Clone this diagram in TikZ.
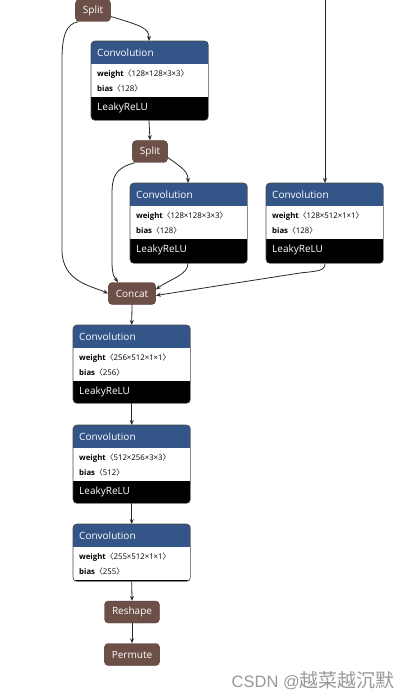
\documentclass[tikz,border=0pt]{standalone}
\usepackage{fontspec}
\setmainfont{Open Sans}
\newfontfamily\cjk{Noto Sans CJK SC}
\newfontfamily\wmfont{Liberation Sans}
\usetikzlibrary{arrows.meta}
\definecolor{hdr}{RGB}{51,85,136}
\definecolor{shp}{RGB}{108,79,71}
\definecolor{edge}{RGB}{40,40,40}
\tikzset{
  arr/.style={draw=edge, line width=0.8pt, -{Stealth[length=5pt,width=4pt]}},
  opnode/.style={fill=shp, draw=shp!70!black, rounded corners=4pt, text=white, font=\fontsize{10}{11}\selectfont, minimum height=22pt, inner xsep=7.5pt, inner ysep=0pt},
  boxframe/.style={draw=black!70, line width=0.6pt, rounded corners=4pt},
  ttl/.style={text=white, font=\fontsize{10}{11}\selectfont, anchor=west, inner sep=0pt},
  attr/.style={text=black, font=\fontsize{7.8}{9}\selectfont, anchor=west, inner sep=0pt},
}
\newcommand\lb{{\cjk 〈}}
\newcommand\rb{{\cjk 〉}}
% name, left x, top y, weight, bias, total height
\newcommand\convbox[6]{%
  \node[name=#1, minimum width=117pt, minimum height=#6pt, inner sep=0pt, anchor=north west] at (#2,#3) {};
  \begin{scope}
    \clip[rounded corners=4pt] (#1.north west) rectangle (#1.south east);
    \fill[black] (#1.north west) rectangle (#1.south east);
    \fill[white] (#2,#3+23) rectangle (#2+117,#3+56);
    \fill[hdr] (#2,#3) rectangle (#2+117,#3+23);
  \end{scope}
  \draw[boxframe] (#1.north west) rectangle (#1.south east);
  \node[ttl] at (#2+6,#3+11.5) {Convolution};
  \node[attr] at (#2+6,#3+33) {\textbf{weight}\lb#4\rb};
  \node[attr] at (#2+6,#3+47.5) {\textbf{bias}\lb#5\rb};
}
\newcommand\leaky[3]{\node[ttl] at (#2+6,#3+67) {LeakyReLU};}
\begin{document}
\begin{tikzpicture}[x=1pt,y=-1pt]
\useasboundingbox[fill=white] (0,0) rectangle (409,700);

\node[opnode] (split1) at (93,10.5) {Split};
\convbox{conv1}{91}{41}{128×128×3×3}{128}{79}
\leaky{conv1}{91}{41}
\node[opnode] (split2) at (150,151.5) {Split};
\convbox{conv2}{130}{183}{128×128×3×3}{128}{80}
\leaky{conv2}{130}{183}
\convbox{conv3}{266}{183}{128×512×1×1}{128}{80}
\leaky{conv3}{266}{183}
\node[opnode] (concat) at (132,293.5) {Concat};
\convbox{conv4}{73}{325}{256×512×1×1}{256}{78}
\leaky{conv4}{73}{325}
\convbox{conv5}{73}{425}{512×256×3×3}{512}{78}
\leaky{conv5}{73}{425}
\convbox{conv6}{73}{524}{255×512×1×1}{255}{57}
\node[opnode] (reshape) at (132,612) {Reshape};
\node[opnode] (permute) at (132,654.5) {Permute};
\coordinate (topin) at (325,0);

\node[text=black!40, anchor=east, inner sep=0pt] (wm) at (395,681) {\wmfont\fontsize{16.5}{18}\selectfont CSDN @{\cjk\fontsize{19}{20}\selectfont 越菜越沉默}};

% edges
\draw[arr] ([yshift=-6pt]split1.east) .. controls (142,26) and (149,28) .. (conv1.north -| 149,0);
\draw[arr] ([xshift=3pt]split1.south west) .. controls (66,24) and (62,36) .. (62,60) -- (62,250) .. controls (62,282) and (92,286) .. (concat.west);
\draw[arr] (conv1.south -| 149,0) -- (split2.north);
\draw[arr] ([yshift=-6pt]split2.east) .. controls (184,169) and (188,172) .. (conv2.north -| 188,0);
\draw[arr] ([xshift=3pt]split2.south west) .. controls (114,168) and (112,178) .. (112,195) -- (112,262) .. controls (112,276) and (115,278) .. ([xshift=-14pt]concat.north);
\draw[arr] (conv2.south -| 188,0) .. controls (188,275) and (170,279) .. ([yshift=4pt]concat.east);
\draw[arr] (conv3.south -| 325,0) .. controls (325,271) and (318,271) .. (300,273) -- ([yshift=-2pt]concat.east);
\draw[arr] (topin) -- (conv3.north -| 325,0);
\draw[arr] (concat.south) -- (conv4.north);
\draw[arr] (conv4.south) -- (conv5.north);
\draw[arr] (conv5.south) -- (conv6.north);
\draw[arr] (conv6.south) -- (reshape.north);
\draw[arr] (reshape.south) -- (permute.north);
\end{tikzpicture}
\end{document}
